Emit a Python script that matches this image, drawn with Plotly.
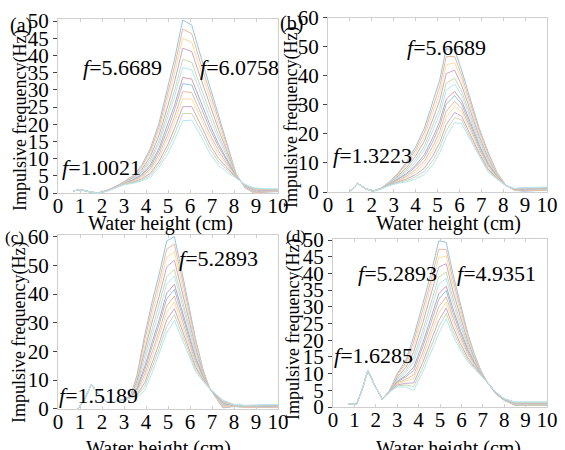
import plotly.graph_objects as go

# ---------------- data ----------------
# panel (a)
xa = [0.7, 1.0, 1.4, 1.8, 2.2, 2.6, 3.0, 3.4, 3.8, 4.2, 4.6, 5.0, 5.3, 5.67, 6.08, 6.5, 6.9, 7.3, 7.7, 8.1, 8.5, 8.9, 9.5, 10.0]
ya = [
    [0.6,1.0,0.4,0,0.7,1.8,3.3,5.0,8.0,13.0,20.5,31.0,39.0,50.3,48.8,39.5,31.0,22.5,14.0,5.5,1.5,0.0,0.3,0.4],
    [0.6,1.0,0.4,0,0.7,1.8,3.2,4.8,7.6,12.2,19.3,29.2,36.9,47.7,46.3,37.4,29.2,21.2,13.3,5.4,1.6,0.1,0.4,0.5],
    [0.6,1.0,0.4,0,0.7,1.7,3.1,4.6,7.2,11.5,18.2,27.5,34.8,45.0,43.8,35.4,27.5,19.9,12.6,5.3,1.7,0.3,0.5,0.5],
    [0.6,1.0,0.4,0,0.6,1.7,3.0,4.4,6.7,10.6,16.9,25.5,32.4,42.1,41.1,33.1,25.5,18.4,11.8,5.2,1.8,0.4,0.6,0.6],
    [0.6,1.0,0.4,0,0.6,1.6,2.9,4.1,6.2,9.7,15.4,23.4,29.8,38.9,38.0,30.5,23.4,16.8,10.9,5.0,1.9,0.6,0.7,0.7],
    [0.6,1.0,0.4,0,0.6,1.6,2.9,4.0,5.9,9.0,14.4,21.8,28.0,36.5,35.8,28.7,21.8,15.7,10.2,4.9,2.0,0.7,0.7,0.8],
    [0.6,1.0,0.4,0,0.6,1.6,2.8,3.8,5.4,8.2,13.1,19.9,25.6,33.6,33.1,26.4,19.9,14.2,9.4,4.8,2.1,0.9,0.8,0.9],
    [0.6,1.0,0.4,0,0.6,1.5,2.7,3.6,5.2,7.6,12.3,18.7,24.2,31.8,31.4,25.0,18.7,13.4,9.0,4.7,2.1,1.0,0.9,0.9],
    [0.6,1.0,0.4,0,0.6,1.5,2.7,3.4,4.8,7.0,11.3,17.2,22.3,29.5,29.2,23.2,17.2,12.2,8.3,4.6,2.2,1.1,0.9,1.0],
    [0.6,1.0,0.4,0,0.5,1.5,2.6,3.3,4.5,6.4,10.4,15.8,20.7,27.4,27.3,21.6,15.8,11.2,7.8,4.6,2.3,1.2,1.0,1.0],
    [0.6,1.0,0.4,0,0.5,1.5,2.5,3.1,4.1,5.7,9.3,14.2,18.8,25.1,25.1,19.7,14.2,10.0,7.1,4.5,2.4,1.3,1.1,1.1],
    [0.6,1.0,0.4,0,0.5,1.4,2.5,3.0,3.8,5.1,8.4,12.9,17.1,23.1,23.1,18.1,12.9,9.0,6.6,4.4,2.4,1.4,1.1,1.1],
    [0.6,1.0,0.4,0,0.5,1.4,2.4,2.8,3.5,4.5,7.5,11.5,15.5,21.0,21.2,16.5,11.5,8.0,6.0,4.3,2.5,1.5,1.2,1.2],
]

# panel (b)
xb = [1.0, 1.35, 1.7, 2.05, 2.4, 2.8, 3.2, 3.6, 4.0, 4.4, 4.8, 5.1, 5.4, 5.78, 6.1, 6.5, 6.9, 7.3, 7.7, 8.1, 8.5, 8.9, 9.5, 10.0]
yb = [
    [0,3.0,1.2,0.3,1.2,3.5,6.5,10.5,15.5,22.0,31.5,38.5,49.3,49.0,42.0,32.0,22.0,14.0,7.0,2.5,0.6,0.3,0.5,0.6],
    [0,3.0,1.2,0.3,1.2,3.4,6.2,9.9,14.5,20.6,29.5,36.3,46.6,46.7,40.3,30.7,21.1,13.4,6.8,2.5,0.7,0.4,0.6,0.7],
    [0,3.0,1.2,0.3,1.2,3.3,5.9,9.2,13.5,19.1,27.5,34.0,43.8,44.5,38.7,29.5,20.2,12.7,6.6,2.5,0.7,0.5,0.7,0.8],
    [0,3.0,1.2,0.3,1.1,3.1,5.5,8.5,12.4,17.5,25.3,31.5,40.8,42.0,36.8,28.1,19.2,12.0,6.3,2.4,0.8,0.6,0.8,0.9],
    [0,3.0,1.2,0.3,1.1,3.0,5.1,7.8,11.2,15.8,22.9,28.8,37.5,39.2,34.8,26.5,18.1,11.3,6.0,2.4,0.8,0.8,0.9,1.0],
    [0,3.0,1.2,0.3,1.1,2.9,4.9,7.2,10.3,14.5,21.2,26.8,35.1,37.2,33.3,25.4,17.3,10.7,5.8,2.4,0.9,0.9,1.0,1.1],
    [0,3.0,1.2,0.3,1.1,2.8,4.5,6.5,9.2,12.9,19.0,24.3,32.0,34.7,31.5,24.0,16.3,10.0,5.6,2.4,0.9,1.0,1.1,1.2],
    [0,3.0,1.2,0.3,1.1,2.7,4.3,6.1,8.6,11.9,17.6,22.8,30.2,33.2,30.3,23.2,15.7,9.6,5.4,2.4,1.0,1.1,1.2,1.3],
    [0,3.0,1.2,0.3,1.1,2.6,4.0,5.5,7.7,10.6,15.9,20.8,27.8,31.2,28.9,22.1,14.9,9.0,5.2,2.4,1.0,1.2,1.3,1.4],
    [0,3.0,1.2,0.3,1.0,2.5,3.8,5.0,6.9,9.5,14.3,19.0,25.7,29.4,27.6,21.1,14.2,8.5,5.1,2.3,1.1,1.2,1.4,1.5],
    [0,3.0,1.2,0.3,1.0,2.4,3.5,4.5,6.0,8.2,12.6,17.0,23.2,27.4,26.1,20.0,13.4,8.0,4.9,2.3,1.1,1.3,1.4,1.5],
    [0,3.0,1.2,0.3,1.0,2.3,3.2,4.0,5.3,7.1,11.0,15.3,21.1,25.7,24.8,19.0,12.7,7.5,4.7,2.3,1.2,1.4,1.5,1.6],
    [0,3.0,1.2,0.3,1.0,2.2,3.0,3.5,4.5,6.0,9.5,13.5,19.0,23.9,23.5,18.0,12.0,7.0,4.5,2.3,1.2,1.5,1.6,1.7],
]

# panel (c)
xc = [0.9, 1.15, 1.52, 1.85, 2.2, 2.6, 3.0, 3.3, 3.6, 3.95, 4.3, 4.6, 4.94, 5.29, 5.6, 5.95, 6.25, 6.6, 6.9, 7.5, 8.0, 8.5, 9.0, 9.5, 10.0]
yc = [
    [0,2.5,8.5,5.0,2.3,2.5,3.3,4.5,12.0,26.0,38.0,47.0,58.5,60.0,49.0,36.0,24.5,13.5,7.0,0.3,0.8,0.5,0.4,0.4,0.4],
    [0,2.5,8.5,5.0,2.3,2.5,3.3,4.4,11.3,24.2,35.8,44.5,55.6,57.4,46.8,34.4,23.5,13.1,7.0,0.5,0.9,0.6,0.5,0.5,0.5],
    [0,2.5,8.5,5.0,2.3,2.5,3.2,4.4,10.6,22.5,33.5,42.0,52.7,54.7,44.7,32.9,22.4,12.8,7.0,0.8,0.9,0.6,0.6,0.6,0.6],
    [0,2.5,8.5,5.0,2.3,2.5,3.2,4.3,9.8,20.5,31.0,39.2,49.5,51.8,42.3,31.1,21.3,12.4,7.0,1.1,1.0,0.7,0.7,0.7,0.7],
    [0,2.5,8.5,5.0,2.3,2.5,3.2,4.2,8.9,18.4,28.3,36.1,46.0,48.6,39.6,29.2,20.0,11.9,7.0,1.4,1.1,0.8,0.8,0.8,0.8],
    [0,2.5,8.5,5.0,2.3,2.5,3.2,4.2,8.2,16.8,26.3,33.8,43.5,46.3,37.7,27.8,19.1,11.6,7.0,1.6,1.1,0.8,0.8,0.9,0.9],
    [0,2.5,8.5,5.0,2.3,2.5,3.1,4.1,7.4,14.9,23.8,31.0,40.3,43.4,35.3,26.0,17.9,11.2,7.0,1.8,1.2,0.9,0.9,1.0,1.0],
    [0,2.5,8.5,5.0,2.3,2.5,3.1,4.1,7.0,13.7,22.3,29.4,38.3,41.6,33.9,25.0,17.3,11.0,7.0,2.0,1.2,0.9,1.0,1.1,1.1],
    [0,2.5,8.5,5.0,2.3,2.5,3.1,4.0,6.3,12.2,20.3,27.1,35.8,39.3,32.0,23.6,16.3,10.7,7.0,2.2,1.3,1.0,1.0,1.2,1.2],
    [0,2.5,8.5,5.0,2.3,2.5,3.1,4.0,5.8,10.8,18.5,25.2,33.5,37.2,30.3,22.4,15.5,10.4,7.0,2.4,1.3,1.0,1.1,1.3,1.3],
    [0,2.5,8.5,5.0,2.3,2.5,3.0,3.9,5.1,9.2,16.5,22.9,31.0,34.9,28.4,21.0,14.6,10.1,7.0,2.6,1.4,1.1,1.2,1.3,1.3],
    [0,2.5,8.5,5.0,2.3,2.5,3.0,3.8,4.6,7.9,14.8,21.0,28.7,32.8,26.7,19.7,13.8,9.8,7.0,2.8,1.5,1.2,1.2,1.4,1.4],
    [0,2.5,8.5,5.0,2.3,2.5,3.0,3.8,4.0,6.5,13.0,19.0,26.5,30.8,25.0,18.5,13.0,9.5,7.0,3.0,1.5,1.2,1.3,1.5,1.5],
]

# panel (d)
xd = [0.7, 1.1, 1.35, 1.63, 1.95, 2.3, 2.65, 3.0, 3.4, 3.77, 4.2, 4.6, 4.94, 5.29, 5.6, 5.95, 6.3, 6.6, 6.9, 7.2, 7.6, 8.0, 8.5, 9.2, 10.0]
yd = [
    [1.0,0.8,5,11,6.5,2.3,5.0,10.0,14.0,21.0,31.0,40.5,49.7,49.3,40.0,31.0,22.0,16.0,11.0,7.5,4.0,2.0,0.5,0.5,0.5],
    [1.0,0.8,5,11,6.5,2.3,5.0,9.6,13.3,19.6,29.2,38.4,47.2,47.2,38.3,29.7,21.2,15.6,10.9,7.5,4.0,2.0,0.6,0.6,0.6],
    [1.0,0.8,5,11,6.5,2.3,4.9,9.3,12.6,18.1,27.3,36.3,44.7,45.2,36.7,28.5,20.5,15.2,10.7,7.5,4.1,2.1,0.7,0.7,0.7],
    [1.0,0.8,5,11,6.5,2.3,4.9,8.9,11.8,16.5,25.3,33.9,41.9,42.9,34.8,27.1,19.6,14.7,10.6,7.5,4.1,2.1,0.8,0.8,0.8],
    [1.0,0.8,5,11,6.5,2.3,4.8,8.4,10.9,14.8,23.0,31.3,38.9,40.4,32.8,25.5,18.7,14.2,10.4,7.5,4.2,2.2,0.9,0.9,0.9],
    [1.0,0.8,5,11,6.5,2.3,4.8,8.1,10.2,13.5,21.4,29.5,36.7,38.5,31.3,24.4,18.0,13.9,10.3,7.5,4.2,2.2,1.0,1.0,1.0],
    [1.0,0.8,5,11,6.5,2.3,4.7,7.7,9.4,11.9,19.3,27.1,33.9,36.2,29.5,23.0,17.2,13.4,10.1,7.5,4.3,2.3,1.1,1.1,1.1],
    [1.0,0.8,5,11,6.5,2.3,4.7,7.5,9.0,10.9,18.1,25.7,32.2,34.9,28.3,22.2,16.6,13.2,10.1,7.5,4.3,2.3,1.1,1.1,1.1],
    [1.0,0.8,5,11,6.5,2.3,4.6,7.2,8.3,9.6,16.4,23.8,30.0,33.0,26.9,21.1,16.0,12.8,9.9,7.5,4.4,2.4,1.2,1.2,1.2],
    [1.0,0.8,5,11,6.5,2.3,4.6,6.9,7.8,8.5,15.0,22.2,28.1,31.4,25.6,20.1,15.4,12.5,9.8,7.5,4.4,2.4,1.3,1.3,1.3],
    [1.0,0.8,5,11,6.5,2.3,4.6,6.6,7.1,7.2,13.4,20.3,25.9,29.6,24.1,19.0,14.7,12.1,9.7,7.5,4.4,2.4,1.4,1.4,1.4],
    [1.0,0.8,5,11,6.5,2.3,4.5,6.3,6.6,6.1,11.9,18.6,23.9,28.0,22.8,18.0,14.1,11.8,9.6,7.5,4.5,2.5,1.4,1.4,1.4],
    [1.0,0.8,5,11,6.5,2.3,4.5,6.0,6.0,5.0,10.5,17.0,22.0,26.4,21.5,17.0,13.5,11.5,9.5,7.5,4.5,2.5,1.5,1.5,1.5],
]

# tick labels
x_ticks = [0, 1, 2, 3, 4, 5, 6, 7, 8, 9, 10]
y_ticks_50 = [0, 5, 10, 15, 20, 25, 30, 35, 40, 45, 50]
y_ticks_60 = [0, 10, 20, 30, 40, 50, 60]

panel_labels = ["(a)", "(b)", "(c)", "(d)"]
peak_labels = [
    ["5.6689", "6.0758", "1.0021"],
    ["5.6689", "1.3223"],
    ["5.2893", "1.5189"],
    ["5.2893", "4.9351", "1.6285"],
]
x_title = "Water height (cm)"
y_title = "Impulsive frequency(Hz)"

# ---------------- styling / layout ----------------
W, H = 565, 450
FONT = "Liberation Serif"
palette = [(0, 114, 189), (217, 83, 25), (237, 177, 32), (126, 47, 142),
           (119, 172, 48), (77, 190, 238), (162, 20, 47)]
FADE = 0.42


def faded(rgb):
    return "rgb(%d,%d,%d)" % tuple(round(255 - (255 - c) * FADE) for c in rgb)


def fx(px):
    return px / W


def fy(py):
    return 1 - py / H


# pixel geometry of each panel: (left, right) x-pixels of 0..10, (bottom, top) y-pixels of range
panels = [
    dict(x=xa, ys=ya, xp=(58, 278), yp=(193, 19.3), yr=[0, 50.5], yt=y_ticks_50),
    dict(x=xb, ys=yb, xp=(328, 547), yp=(192, 17.8), yr=[0, 60.0], yt=y_ticks_60),
    dict(x=xc, ys=yc, xp=(58, 278), yp=(408.8, 235.2), yr=[0, 60.5], yt=y_ticks_60),
    dict(x=xd, ys=yd, xp=(333, 547), yp=(407, 239), yr=[0, 50.3], yt=y_ticks_50),
]

fig = go.Figure()
layout = dict(
    template="none",
    width=W, height=H, autosize=False, margin=dict(l=0, r=0, t=0, b=0, pad=0),
    paper_bgcolor="white", plot_bgcolor="white", showlegend=False,
    font=dict(family=FONT, color="black", size=21),
)

for i, p in enumerate(panels):
    n = "" if i == 0 else str(i + 1)
    for k, yv in enumerate(p["ys"]):
        fig.add_trace(go.Scatter(
            x=p["x"], y=yv, mode="lines",
            line=dict(color=faded(palette[k % 7]), width=1),
            xaxis="x" + n, yaxis="y" + n, hoverinfo="skip"))
    layout["xaxis" + n] = dict(
        domain=[fx(p["xp"][0]), fx(p["xp"][1])], range=[0, 10], automargin=False,
        anchor="y" + n, tickmode="array", tickvals=x_ticks,
        showgrid=False, zeroline=False, showline=True, linecolor="#cfcfcf",
        linewidth=1, mirror="ticks", ticks="inside", ticklen=3,
        tickcolor="#cfcfcf", ticklabelstandoff=-6,
        tickfont=dict(size=21, family=FONT, color="black"))
    layout["yaxis" + n] = dict(
        domain=[fy(p["yp"][0]), fy(p["yp"][1])], range=p["yr"], automargin=False,
        anchor="x" + n, tickmode="array", tickvals=p["yt"],
        showgrid=False, zeroline=False, showline=True, linecolor="#cfcfcf",
        linewidth=1, mirror=True, ticks="outside", ticklen=4, tickcolor="#444",
        tickfont=dict(size=21, family=FONT, color="black"))

fig.update_layout(**layout)

ann = []


def add_text(text, px, py, size, angle=0):
    ann.append(dict(text=text, x=fx(px), y=fy(py), xref="paper", yref="paper",
                    xanchor="center", yanchor="middle", showarrow=False,
                    textangle=angle, font=dict(family=FONT, size=size, color="black")))


# panel letters
add_text(panel_labels[0], 21, 25, 20)
add_text(panel_labels[1], 291, 23, 20)
add_text(panel_labels[2], 14, 238, 17)
add_text(panel_labels[3], 296, 237, 17)

# axis titles
add_text(y_title, 20, 121, 18, -90)
add_text(y_title, 291, 118, 18, -90)
add_text(y_title, 19, 333, 18, -90)
add_text(y_title, 293, 330, 18, -90)
add_text(x_title, 160, 223, 20)
add_text(x_title, 448, 223, 20)
add_text(x_title, 158, 448, 20)
add_text(x_title, 448, 448, 20)

# peak annotations
peak_pos = [
    [(122, 68), (239, 68), (101, 168)],
    [(446, 47), (372, 155)],
    [(218, 258), (98, 395)],
    [(397, 273), (497, 273), (373, 355)],
]
for labs, poss in zip(peak_labels, peak_pos):
    for lab, (px, py) in zip(labs, poss):
        add_text("<i>f</i>=" + lab, px, py, 22)

fig.update_layout(annotations=ann)
fig.write_html(
    "out.html",
    config={"displayModeBar": False},
    post_script="document.body.style.margin='0';document.body.style.overflow='hidden';",
)
